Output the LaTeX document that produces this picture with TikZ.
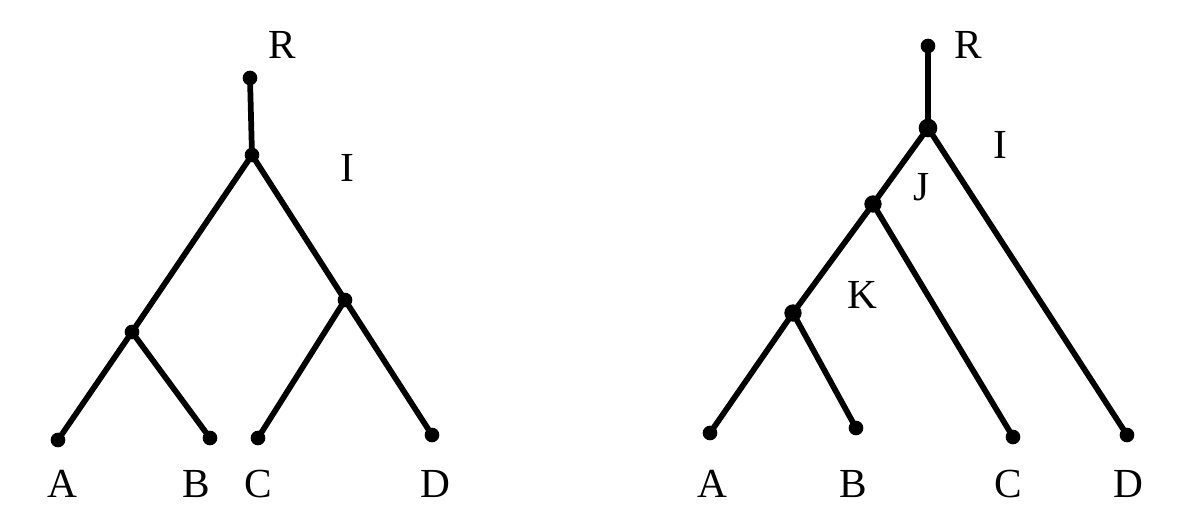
\documentclass[tikz,border=0pt]{standalone}
\usepackage{fontspec}
\setmainfont{Liberation Serif}
\begin{document}
\begin{tikzpicture}[x=0.75pt,y=-0.75pt,
  edge/.style={line width=4.3pt,line cap=round},
  dotn/.style={circle,fill=black,inner sep=0pt,minimum size=11pt},
  lab/.style={font=\fontsize{31}{31}\selectfont,inner sep=0pt}]
\useasboundingbox (0,0) rectangle (1178,530);
% left tree
\node[dotn] (lR) at (250,78) {};
\node[dotn] (lI) at (252,155) {};
\node[dotn] (lL) at (132,332) {};
\node[dotn] (lM) at (345,300) {};
\node[dotn] (lA) at (58,440) {};
\node[dotn] (lB) at (210,438) {};
\node[dotn] (lC) at (258,438) {};
\node[dotn] (lD) at (432,435) {};
\draw[edge] (lR.center) -- (lI.center);
\draw[edge] (lI.center) -- (lL.center);
\draw[edge] (lI.center) -- (lM.center);
\draw[edge] (lL.center) -- (lA.center);
\draw[edge] (lL.center) -- (lB.center);
\draw[edge] (lM.center) -- (lC.center);
\draw[edge] (lM.center) -- (lD.center);
\node[lab] (tlR) at (282,45) {R};
\node[lab] (tlI) at (347,168) {I};
\node[lab] (tlA) at (62,484) {A};
\node[lab] (tlB) at (196,484) {B};
\node[lab] (tlC) at (258,484) {C};
\node[lab] (tlD) at (435,484) {D};
% right tree
\node[dotn] (rR) at (928,46) {};
\node[dotn,minimum size=14pt] (rI) at (928,128) {};
\node[dotn,minimum size=13pt] (rJ) at (873,204) {};
\node[dotn,minimum size=13pt] (rK) at (793,313) {};
\node[dotn] (rA) at (710,433) {};
\node[dotn] (rB) at (856,428) {};
\node[dotn] (rC) at (1013,437) {};
\node[dotn] (rD) at (1127,435) {};
\draw[edge] (rR.center) -- (rI.center);
\draw[edge] (rI.center) -- (rJ.center);
\draw[edge] (rI.center) -- (rD.center);
\draw[edge] (rJ.center) -- (rK.center);
\draw[edge] (rJ.center) -- (rC.center);
\draw[edge] (rK.center) -- (rA.center);
\draw[edge] (rK.center) -- (rB.center);
\node[lab] (trR) at (968,45) {R};
\node[lab] (trI) at (1000,145) {I};
\node[lab] (trJ) at (922,187) {J};
\node[lab] (trK) at (862,295) {K};
\node[lab] (trA) at (712,484) {A};
\node[lab] (trB) at (853,484) {B};
\node[lab] (trC) at (1008,484) {C};
\node[lab] (trD) at (1128,484) {D};
\end{tikzpicture}
\end{document}
